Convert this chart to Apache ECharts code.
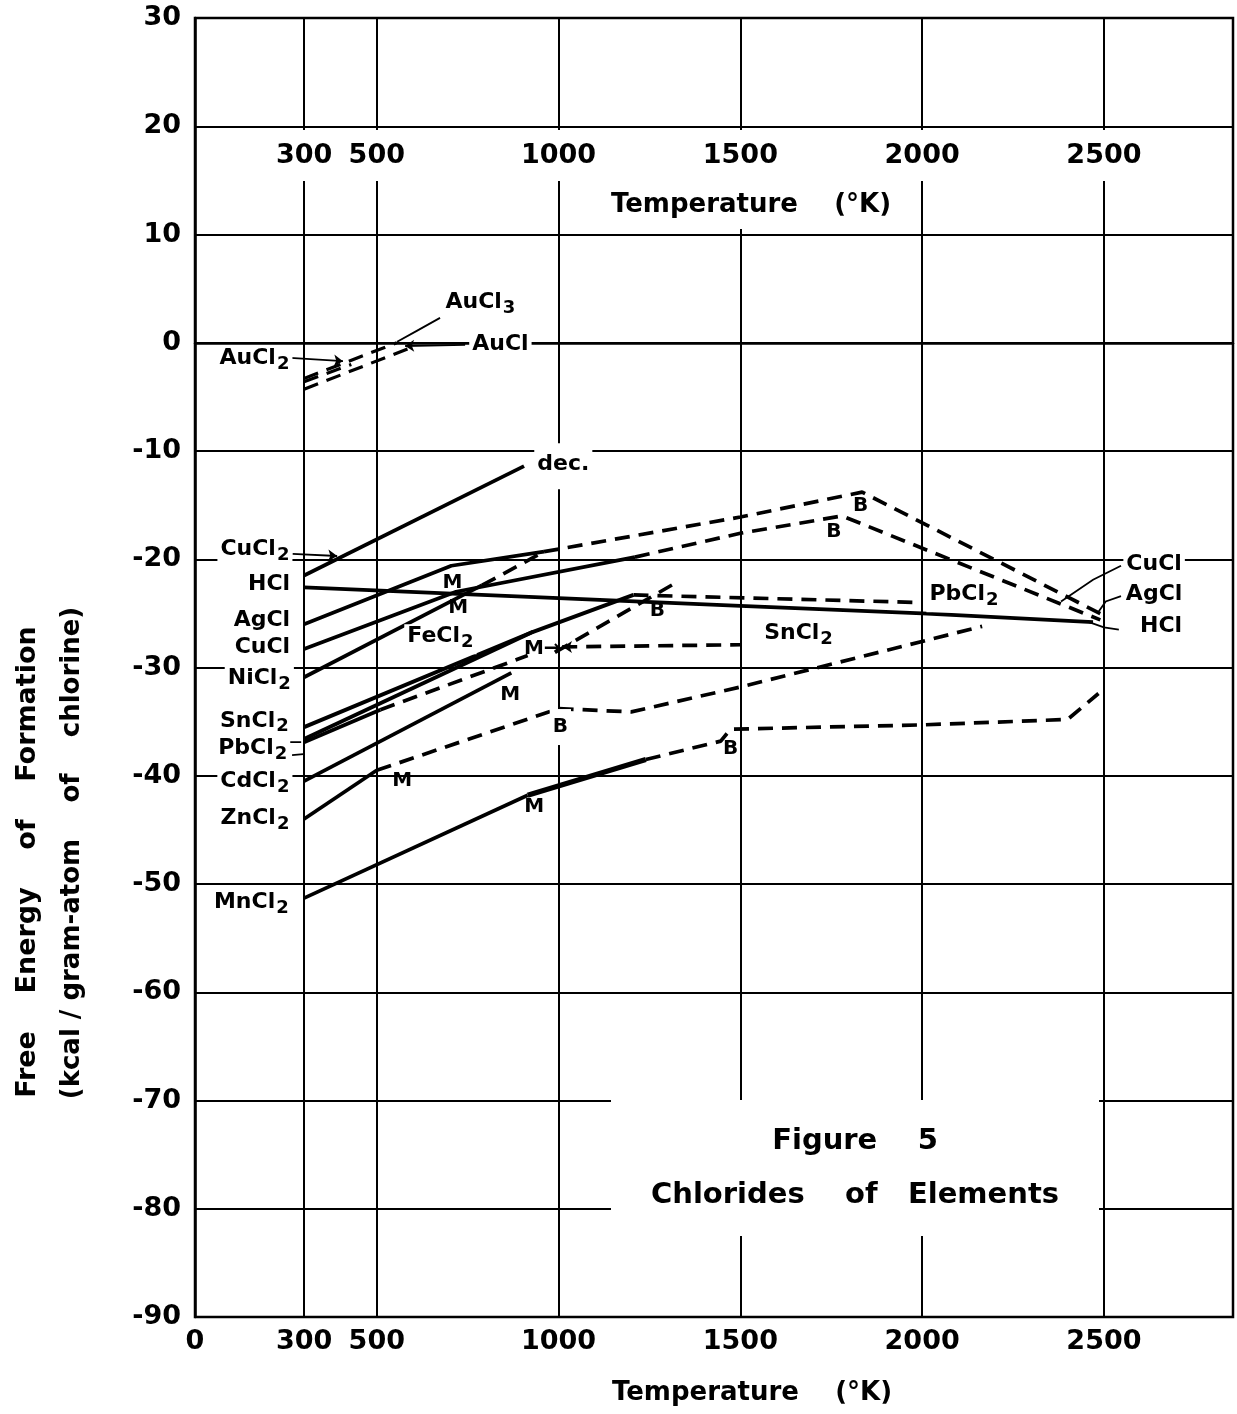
<!DOCTYPE html>
<html><head><meta charset="utf-8">
<script src="https://cdn.jsdelivr.net/npm/echarts@6/dist/echarts.min.js"></script>
<style>html,body{margin:0;padding:0;background:#fff}#c{width:1237px;height:1414px}</style>
</head><body><div id="c"></div>
<script>
// ---------- axes / ticks ----------
const X_MAX = 2855;
const xBottomTicks = [0, 300, 500, 1000, 1500, 2000, 2500];
const xTopTicks = [300, 500, 1000, 1500, 2000, 2500];
const xGridLines = [300, 500, 1000, 1500, 2000, 2500];
const yRange = [-90, 30];

// ---------- series values  [T (K), kcal / g-atom Cl] ----------
const AuCl2 = [[300, -3.6], [430, -2.0]];
const AuCl3 = [[300, -3.3], [555, 0.0]];
const AuCl = [[300, -4.3], [590, -0.5]];
const CuCl2 = [[300, -21.5], [905, -11.4]];
const HCl = [[300, -22.6], [1000, -23.6], [1500, -24.3], [2000, -25.0], [2470, -25.8]];
const AgCl_solid = [[300, -26.0], [705, -20.6], [960, -19.3]];
const AgCl_ext = [[960, -19.3], [1500, -16.1], [1835, -13.8], [2500, -25.2]];
const CuCl_solid = [[300, -28.3], [718, -23.0], [1210, -19.8]];
const CuCl_ext = [[1210, -19.8], [1500, -17.6], [1780, -16.0], [2490, -25.6]];
const NiCl2_solid = [[300, -30.9], [790, -22.4]];
const NiCl2_ext = [[790, -22.4], [960, -19.3]];
const PbCl2_solid = [[300, -35.5], [930, -26.7], [1206, -23.3]];
const PbCl2_ext = [[1206, -23.3], [2000, -24.0]];
const FeCl2_solid = [[300, -36.6], [930, -26.7]];
const FeCl2_ext = [[990, -28.6], [1316, -22.3]];
const SnCl2_solid = [[300, -36.9], [510, -33.9]];
const SnCl2_ext = [[510, -33.9], [915, -28.9]];
const SnCl2_gas = [[1010, -28.1], [1500, -27.9]];
const CdCl2_solid = [[300, -40.5], [870, -30.5]];
const ZnCl2_solid = [[300, -44.0], [500, -39.5]];
const ZnCl2_ext = [[500, -39.5], [1000, -33.8], [1200, -34.1], [1500, -31.8], [2165, -26.2]];
const MnCl2_solid = [[300, -51.3], [915, -41.8]];
const MnCl2_liq = [[915, -41.8], [1240, -38.5]];
const MnCl2_ext = [[1240, -38.5], [1446, -36.8], [1473, -35.7], [2000, -35.3], [2400, -34.8], [2485, -32.4]];

// ---------- labels [T, value, text, align] ----------
const compoundLabels = [
  [785, 3.5, 'AuCl3', 'center'], [840, -0.4, 'AuCl', 'center'], [268, -1.7, 'AuCl2', 'right'],
  [1013, -11.4, 'dec.', 'center'],
  [268, -19.4, 'CuCl2', 'right'], [270, -22.6, 'HCl', 'right'], [270, -25.9, 'AgCl', 'right'],
  [270, -28.4, 'CuCl', 'right'], [272, -31.3, 'NiCl2', 'right'], [266, -35.2, 'SnCl2', 'right'],
  [262, -37.7, 'PbCl2', 'right'], [268, -40.8, 'CdCl2', 'right'], [268, -44.2, 'ZnCl2', 'right'],
  [266, -52.0, 'MnCl2', 'right'],
  [675, -27.4, 'FeCl2', 'center'], [1660, -27.1, 'SnCl2', 'center'], [2115, -23.5, 'PbCl2', 'center'],
  [2638, -20.7, 'CuCl', 'center'], [2638, -23.5, 'AgCl', 'center'], [2657, -26.5, 'HCl', 'center']
];
const pointMarks = [
  [708, -22.2, 'M'], [724, -24.5, 'M'], [955, -28.3, 'M→'], [867, -32.5, 'M'], [570, -40.5, 'M'], [933, -42.9, 'M'],
  [1831, -15.1, 'B'], [1757, -17.5, 'B'], [1272, -24.8, 'B'], [1005, -35.5, 'B'], [1473, -37.5, 'B']
];
const leaderArrows = [
  [[743, -0.2], [578, -0.3]],
  [[262, -1.4], [407, -1.7]],
  [[268, -19.5], [391, -19.7]],
  [[1050, -28.1], [1012, -28.1]]
];
const leaderCurves = [
  [[674, 2.3], [610, 1.1], [556, 0.1]],
  [[190, -36.3], [230, -36.9], [292, -36.9]],
  [[267, -38.1], [298, -38.0]],
  [[2547, -20.6], [2470, -21.9], [2382, -23.9]],
  [[2547, -23.4], [2505, -23.9], [2486, -24.8]],
  [[2541, -26.5], [2500, -26.3], [2459, -25.8]]
];

// ---------- build ----------
const FONT = 'DejaVu Sans';
function richText(t) {
  const m = t.match(/^(.*?)(\d)$/);
  if (m && m[1].length > 1) return '{n|' + m[1] + '}{s|' + m[2] + '}';
  return '{n|' + t + '}';
}
const RICH = {
  n: {fontFamily: FONT, fontSize: 22, fontWeight: 'bold', color: '#000', lineHeight: 26, verticalAlign: 'top'},
  s: {fontFamily: FONT, fontSize: 18, fontWeight: 'bold', color: '#000', lineHeight: 19, padding: [11, 0, 0, 1], verticalAlign: 'bottom'}
};
const DASH = [15, 9];
function lineSeries(data, dashed, w) {
  return {
    type: 'line', data, showSymbol: false, symbol: 'none', silent: true, animation: false, z: 3,
    lineStyle: {color: '#000', width: w || 3.7, type: dashed ? DASH : 'solid', cap: 'butt', opacity: 1}
  };
}
const series = [
  lineSeries(AuCl2, true, 3.2), lineSeries(AuCl3, true, 3.2), lineSeries(AuCl, true, 3.2),
  lineSeries(CuCl2, false), lineSeries(HCl, false),
  lineSeries(AgCl_solid, false), lineSeries(AgCl_ext, true),
  lineSeries(CuCl_solid, false), lineSeries(CuCl_ext, true),
  lineSeries(NiCl2_solid, false), lineSeries(NiCl2_ext, true),
  lineSeries(PbCl2_solid, false, 4), lineSeries(PbCl2_ext, true),
  lineSeries(FeCl2_solid, false, 4), lineSeries(FeCl2_ext, true),
  lineSeries(SnCl2_solid, false), lineSeries(SnCl2_ext, true), lineSeries(SnCl2_gas, true),
  lineSeries(CdCl2_solid, false),
  lineSeries(ZnCl2_solid, false), lineSeries(ZnCl2_ext, true),
  lineSeries(MnCl2_solid, false), lineSeries(MnCl2_liq, false, 5), lineSeries(MnCl2_ext, true)
];
// vertical grid lines
series.push({
  type: 'line', data: [], silent: true, animation: false, z: 2,
  markLine: {
    silent: true, animation: false, symbol: ['none', 'none'], label: {show: false},
    lineStyle: {color: '#000', width: 2, type: 'solid', opacity: 1},
    data: xGridLines.map(v => ({xAxis: v}))
  }
});
// leaders
series.push({
  type: 'lines', coordinateSystem: 'cartesian2d', silent: true, animation: false, z: 4,
  symbol: ['none', 'arrow'], symbolSize: 9,
  lineStyle: {color: '#000', width: 1.8, opacity: 1},
  data: leaderArrows.map(c => ({coords: c}))
});
series.push({
  type: 'lines', coordinateSystem: 'cartesian2d', polyline: true, silent: true, animation: false, z: 4,
  lineStyle: {color: '#000', width: 1.8, opacity: 1, curveness: 0},
  data: leaderCurves.map(c => ({coords: c}))
});
// text annotations
series.push({
  type: 'scatter', symbolSize: 0, silent: true, animation: false, z: 10,
  itemStyle: {opacity: 1},
  data: compoundLabels.map(d => ({
    value: [d[0], d[1]],
    label: {
      show: true, position: 'inside', align: d[3], verticalAlign: 'middle', color: '#000', opacity: 1,
      formatter: richText(d[2]), rich: RICH,
      backgroundColor: '#fff', padding: d[2] === 'dec.' ? [10, 3] : [1, 3, 3, 3]
    }
  }))
});
series.push({
  type: 'scatter', symbolSize: 0, silent: true, animation: false, z: 10,
  itemStyle: {opacity: 1},
  data: pointMarks.map(d => ({
    value: [d[0], d[1]],
    label: {
      show: true, position: 'inside', formatter: d[2], opacity: 1,
      fontFamily: FONT, fontSize: 20, fontWeight: 'bold', color: '#000',
      backgroundColor: d[0] === 1005 ? '#fff' : 'transparent', padding: d[0] === 1005 ? [8, 3] : 0
    }
  }))
});

const axisLabelStyle = {fontFamily: FONT, fontSize: 27, fontWeight: 'bold', color: '#000', formatter: v => String(v)};
const option = {
  backgroundColor: '#fff',
  animation: false,
  grid: {left: 195, right: 4, top: 18, bottom: 97, show: true, borderColor: '#000', borderWidth: 2.5, containLabel: false},
  xAxis: [
    {
      type: 'value', position: 'bottom', min: 0, max: X_MAX,
      axisLine: {show: true, lineStyle: {color: '#000', width: 2.5}},
      axisTick: {show: false}, splitLine: {show: false},
      axisLabel: Object.assign({customValues: xBottomTicks, interval: 0, hideOverlap: false, margin: 11}, axisLabelStyle)
    },
    {
      type: 'value', position: 'top', min: 0, max: X_MAX, offset: -108, z: 10,
      axisLine: {show: false}, axisTick: {show: false}, splitLine: {show: false},
      axisLabel: Object.assign({customValues: xTopTicks, interval: 0, hideOverlap: false, inside: true, margin: 4,
        backgroundColor: '#fff', padding: [12, 5]}, axisLabelStyle)
    }
  ],
  yAxis: {
    type: 'value', min: yRange[0], max: yRange[1], interval: 10,
    axisLine: {show: true, lineStyle: {color: '#000', width: 2.5}},
    axisTick: {show: false},
    splitLine: {show: true, lineStyle: {color: '#000', width: 2}},
    axisLabel: Object.assign({margin: 14}, axisLabelStyle)
  },
  series,
  graphic: [
    {type: 'text', x: 28, y: 862, rotation: Math.PI / 2, z: 100,
      style: {text: 'Free    Energy    of    Formation', fontFamily: FONT, fontSize: 27, fontWeight: 'bold', fill: '#000', align: 'center', verticalAlign: 'middle'}},
    {type: 'text', x: 72, y: 853, rotation: Math.PI / 2, z: 100,
      style: {text: '(kcal / gram-atom    of    chlorine)', fontFamily: FONT, fontSize: 26, fontWeight: 'bold', fill: '#000', align: 'center', verticalAlign: 'middle'}},
    {type: 'text', x: 751, y: 205, z: 100,
      style: {text: 'Temperature    (°K)', fontFamily: FONT, fontSize: 26, fontWeight: 'bold', fill: '#000', align: 'center', verticalAlign: 'middle',
        backgroundColor: '#fff', padding: [11, 8]}},
    {type: 'text', x: 752, y: 1393, z: 100,
      style: {text: 'Temperature    (°K)', fontFamily: FONT, fontSize: 26, fontWeight: 'bold', fill: '#000', align: 'center', verticalAlign: 'middle'}},
    {type: 'text', x: 855, y: 1168, z: 100,
      style: {text: 'Figure    5\nChlorides    of   Elements', fontFamily: FONT, fontSize: 29, fontWeight: 'bold', lineHeight: 54, fill: '#000',
        align: 'center', verticalAlign: 'middle', backgroundColor: '#fff', padding: [14, 40]}}
  ]
};
const chart = echarts.init(document.getElementById('c'), null, {renderer: 'canvas'});
chart.setOption(option);
</script></body></html>
